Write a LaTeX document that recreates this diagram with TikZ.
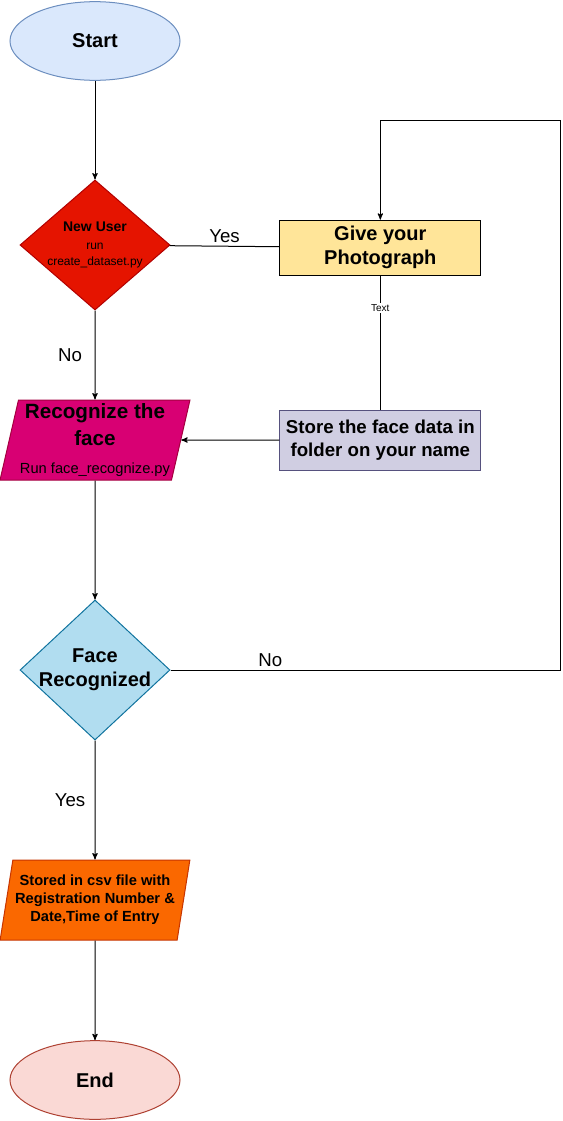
\documentclass[tikz,border=0pt]{standalone}
\usepackage{fontspec}
\setmainfont{Liberation Sans}
\usepackage{tikz}
\usetikzlibrary{arrows,positioning,shapes.geometric}

\definecolor{startfill}{HTML}{DAE8FC}
\definecolor{startline}{HTML}{6C8EBF}
\definecolor{newfill}{HTML}{E51400}
\definecolor{newline}{HTML}{B20000}
\definecolor{givefill}{HTML}{FFE599}
\definecolor{storefill}{HTML}{D0CEE2}
\definecolor{storeline}{HTML}{56517E}
\definecolor{recfill}{HTML}{D80073}
\definecolor{recline}{HTML}{A50040}
\definecolor{facefill}{HTML}{B1DDF0}
\definecolor{faceline}{HTML}{10739E}
\definecolor{csvfill}{HTML}{FA6800}
\definecolor{csvline}{HTML}{C73500}
\definecolor{endfill}{HTML}{FAD9D5}
\definecolor{endline}{HTML}{AE4132}

\begin{document}
\begin{tikzpicture}[->,>=stealth',x=0.75pt,y=-0.75pt,line width=0.75pt,
    startstop/.style={ellipse,draw,minimum width=127.5pt,minimum height=59pt,inner sep=0pt,font=\fontsize{15}{18}\selectfont\bfseries},
    decision/.style={diamond,draw,minimum width=112.5pt,inner sep=0pt},
    process/.style={rectangle,draw,minimum width=150.75pt,inner sep=0pt,align=center},
    io/.style={trapezium,trapezium left angle=76,trapezium right angle=104,trapezium stretches=true,draw,minimum width=142.5pt,minimum height=60pt,inner sep=0pt,align=center},
    lbl/.style={font=\fontsize{14}{16}\selectfont,inner sep=2pt}]
      \useasboundingbox (0,0) rectangle (562,1121);
      \node[startstop,fill=startfill,draw=startline] (start) at (95,41) {Start};
      \node[decision,minimum height=97.5pt,fill=newfill,draw=newline,below of=start,node distance=153pt] (newuser) {};
      \node[align=center,font=\fontsize{9}{11.5}\selectfont] (newtext) at (newuser) {{\fontsize{10.5}{14}\selectfont\bfseries New User}\\[2pt]run\\create\_dataset.py};
      \node[process,minimum height=41.25pt,fill=givefill,right of=newuser,node distance=214pt,yshift=-2pt,font=\fontsize{15}{18}\selectfont\bfseries] (give) {Give your\\Photograph};
      \node[io,fill=recfill,draw=recline,below of=newuser,node distance=146.25pt,font=\fontsize{15.5}{20}\selectfont\bfseries] (recog) {Recognize the\\face\\[1pt]{\fontsize{11}{15}\selectfont\mdseries Run face\_recognize.py}};
      \node[process,minimum height=45pt,fill=storefill,draw=storeline,right of=recog,node distance=214pt,font=\fontsize{14}{17.5}\selectfont\bfseries] (store) {Store the face data in\\folder on your name};
      \node[decision,minimum height=105pt,fill=facefill,draw=faceline,below of=recog,node distance=172.5pt] (face) {};
      \node[align=center,font=\fontsize{15}{18}\selectfont\bfseries] (facetext) at (face) {Face\\Recognized};
      \node[io,fill=csvfill,draw=csvline,below of=face,node distance=172.5pt,font=\fontsize{11}{13.5}\selectfont\bfseries] (csv) {Stored in csv file with\\Registration Number \&\\Date,Time of Entry};
      \node[startstop,fill=endfill,draw=endline,below of=csv,node distance=135pt] (end) {End};
      \coordinate (turn) at (560,120);
      \path (start) edge (newuser)
      (newuser) edge node[lbl,xshift=-18.75pt] {No} (recog)
      (newuser) edge[-] node[lbl,above] {Yes} (give)
      (give) edge[-] node[pos=0.24,fill=white,font=\fontsize{7.5}{9}\selectfont,inner sep=1pt] {Text} (store)
      (store) edge (recog)
      (recog) edge (face)
      (face) edge node[lbl,xshift=-18.75pt] {Yes} (csv)
      (csv) edge (end);
      \draw (face.east) -| node[lbl,pos=0.128,above] {No} (turn) -| (give.north);
\end{tikzpicture}
\end{document}
